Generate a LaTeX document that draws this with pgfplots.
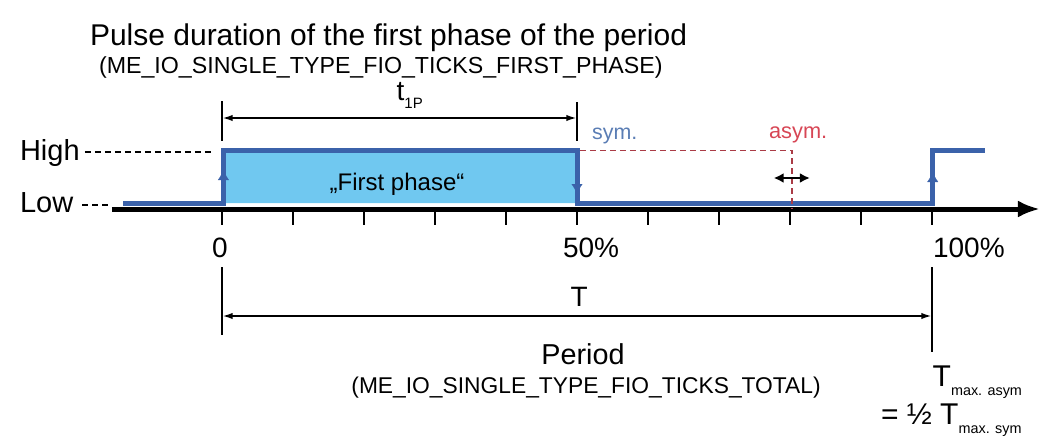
\documentclass[border=0pt]{standalone}
\usepackage{pgfplots}
\pgfplotsset{compat=1.18}
\usepackage{fontspec}
\setmainfont{Liberation Sans}
\usetikzlibrary{arrows.meta}
\definecolor{sigblue}{RGB}{59,98,170}
\definecolor{fillblue}{RGB}{112,200,240}
\definecolor{textgray}{RGB}{51,51,51}
\definecolor{symblue}{RGB}{90,125,180}
\definecolor{asymred}{RGB}{215,70,85}
\definecolor{dashred}{RGB}{170,60,70}
\newcommand\fs[1]{\fontsize{#1}{#1}\selectfont}
\begin{document}
\begin{tikzpicture}
\begin{axis}[
  width=523.5pt, height=218.5pt, scale only axis,
  xmin=-31.268, xmax=116.197, ymin=0, ymax=437, y dir=reverse,
  axis lines=none, clip=false,
  every node/.style={text=textgray, inner sep=0pt, outer sep=0pt},
]
% bounding box
\addplot[draw=none, forget plot] coordinates {(-31.268,0) (116.197,437)};
% first phase fill
\addplot[fill=fillblue, draw=none] coordinates {(0.2,150) (50,150) (50,203) (0.2,203) (0.2,150)};
% time axis
\addplot[black, line width=2.5pt, -{Latex[length=11pt,width=8.5pt]}] coordinates {(-15.5,209) (115.2,209)};
% ticks
\pgfplotsinvokeforeach{0,10,...,100}{
  \addplot[black, line width=0.8pt] coordinates {(#1,212) (#1,225)};
}
% signal
\addplot[sigblue, line width=2.5pt, line join=miter] coordinates {
  (-13.9,203) (0.2,203) (0.2,150) (50,150) (50,203) (100.1,203) (100.1,150) (107.5,150)};
% edge arrowheads
\addplot[sigblue, line width=0.1pt, -{Latex[length=5pt,width=5.5pt]}] coordinates {(0.2,185) (0.2,170)};
\addplot[sigblue, line width=0.1pt, -{Latex[length=5pt,width=5.5pt]}] coordinates {(50,175) (50,194)};
\addplot[sigblue, line width=0.1pt, -{Latex[length=5pt,width=5.5pt]}] coordinates {(100.1,185) (100.1,172)};
% level dashes
\addplot[black, line width=0.65pt, dash pattern=on 3pt off 2pt] coordinates {(-19.3,152) (-1.2,152)};
\addplot[black, line width=0.65pt, dash pattern=on 3pt off 2pt] coordinates {(-19.7,205) (-15.9,205)};
% asym dashed
\addplot[dashred, line width=0.65pt, dash pattern=on 3pt off 2pt] coordinates {(50.4,150.5) (80.3,150.5) (80.3,209)};
\addplot[black, line width=1pt, {Latex[length=5pt,width=5pt]}-{Latex[length=5pt,width=5pt]}] coordinates {(77.7,178) (82.8,178)};
% t1P dimension
\addplot[black, line width=0.75pt] coordinates {(0,101) (0,141)};
\addplot[black, line width=0.75pt] coordinates {(50,102) (50,141)};
\addplot[black, line width=0.75pt, {Latex[length=5pt,width=3.2pt]}-{Latex[length=5pt,width=3.2pt]}] coordinates {(0.1,118) (49.9,118)};
% T dimension
\addplot[black, line width=0.75pt] coordinates {(0,267) (0,335)};
\addplot[black, line width=0.75pt] coordinates {(100,267) (100,352)};
\addplot[black, line width=0.75pt, {Latex[length=5pt,width=3.2pt]}-{Latex[length=5pt,width=3.2pt]}] coordinates {(0.1,316) (99.9,316)};
% texts
\node[anchor=base west] at (axis cs:-19.58,45) {\fs{15}Pulse duration of the first phase of the period};
\node[anchor=base west] at (axis cs:-18.31,73) {\fs{11.6}(ME\_IO\_SINGLE\_TYPE\_FIO\_TICKS\_FIRST\_PHASE)};
\node[anchor=base west] at (axis cs:23.6,100) {\fs{14}t\raisebox{-0.3em}{\fs{7.5}1P}};
\node[anchor=base west] at (axis cs:-29.44,160) {\fs{14.5}High};
\node[anchor=base west] at (axis cs:-29.44,212) {\fs{14.5}Low};
\node[anchor=base] at (axis cs:24.65,190) {\fs{12}„First phase“};
\node[anchor=base west, text=symblue] at (axis cs:51.13,139) {\fs{10.7}sym.};
\node[anchor=base west, text=asymred] at (axis cs:76.06,138) {\fs{10.9}asym.};
\node[anchor=base] at (axis cs:-0.28,257) {\fs{14}0};
\node[anchor=base west] at (axis cs:47.04,257) {\fs{14}50\%};
\node[anchor=base west] at (axis cs:99.15,257) {\fs{14}100\%};
\node[anchor=base] at (axis cs:50.3,306) {\fs{14}T};
\node[anchor=base] at (axis cs:50.85,364) {\fs{14.4}Period};
\node[anchor=base] at (axis cs:51.27,393) {\fs{11.4}(ME\_IO\_SINGLE\_TYPE\_FIO\_TICKS\_TOTAL)};
\node[anchor=base west] at (axis cs:99.1,386) {\fs{15}T\raisebox{-0.3em}{\fs{7.2}max. asym}};
\node[anchor=base east] at (axis cs:113.6,424) {\fs{15}= ½ T\raisebox{-0.3em}{\fs{7.2}max. sym}};
\end{axis}
\end{tikzpicture}
\end{document}
